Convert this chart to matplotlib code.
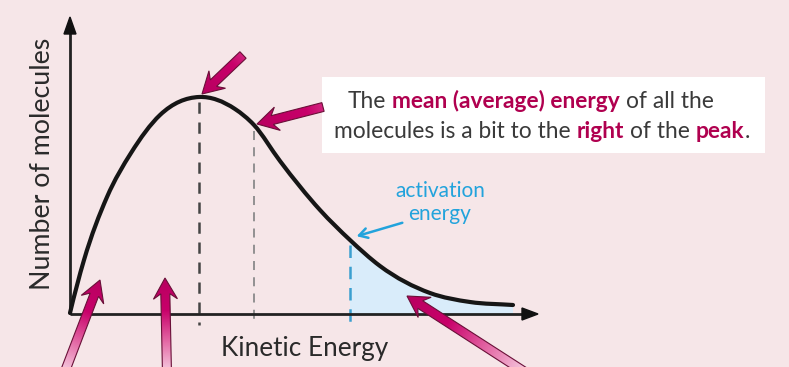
import numpy as np
import matplotlib
matplotlib.use("Agg")
import matplotlib.pyplot as plt
from matplotlib.patches import Polygon, Rectangle, PathPatch
from matplotlib.path import Path
from matplotlib.colors import LinearSegmentedColormap

# ---- data (energy in arbitrary units, molecules in arbitrary units) ----
energy = [0, 14, 37, 61, 90, 129, 165, 184, 210, 250, 280, 310, 360, 400, 443]
molecules = [1, 54, 117, 161, 199, 217, 205, 189, 153, 104, 74, 48, 21, 12, 9]
peak_energy = 129
mean_energy = 184
activation_energy = 280

x_label = "Kinetic Energy"
y_label = "Number of molecules"
act_label = ["activation", "energy"]
box_lines = [
    [("The", False), ("mean (average) energy", True), ("of all the", False)],
    [("molecules is a bit to the", False), ("right", True), ("of the", False),
     ("peak", True), (".", False)],
]

BG = "#f6e6e8"
CRIMSON = "#b0004f"
TEXTGREY = "#3a3a3a"
BLUE = "#22a3dc"

W, H = 789, 367
fig = plt.figure(figsize=(W / 100, H / 100), dpi=100, facecolor=BG)
ax = fig.add_axes([0, 0, 1, 1])
ax.set_facecolor(BG)
# 1 data unit == 1 pixel; origin of the chart axes at pixel (70, 314)
ax.set_xlim(-70, W - 70)
ax.set_ylim(314 - H, 314)
ax.axis("off")

E = np.array(energy, float)
N = np.array(molecules, float)

def curve_at(e):
    return float(np.interp(e, E, N))

# tangents for a smooth cubic Hermite curve through the read points
h = np.diff(E)
d = np.diff(N) / h
m = np.zeros_like(N)
m[1:-1] = (d[:-1] * h[1:] + d[1:] * h[:-1]) / (h[:-1] + h[1:])
m[0] = 2 * d[0] - m[1]
m[-1] = d[-1]

def smooth_codes(start, stop):
    verts = [(E[start], N[start])]
    codes = [Path.MOVETO]
    for i in range(start, stop):
        hh = E[i + 1] - E[i]
        verts += [(E[i] + hh / 3, N[i] + m[i] * hh / 3),
                  (E[i + 1] - hh / 3, N[i + 1] - m[i + 1] * hh / 3),
                  (E[i + 1], N[i + 1])]
        codes += [Path.CURVE4] * 3
    return verts, codes

# shaded area beyond activation energy
i_act = int(np.argmin(np.abs(E - activation_energy)))
v, c = smooth_codes(i_act, len(E) - 1)
v = v + [(E[-1], 0.0), (E[i_act], 0.0), (E[i_act], N[i_act])]
c = c + [Path.LINETO, Path.LINETO, Path.CLOSEPOLY]
ax.add_patch(PathPatch(Path(np.array(v), c), facecolor="#d9ecfa", lw=0, zorder=1))

# axes with arrow heads
ax.plot([0, 455], [0, 0], color="#222222", lw=2, zorder=3, solid_capstyle="butt")
ax.plot([0, 0], [0, 282], color="#222222", lw=2, zorder=3, solid_capstyle="butt")
ax.add_patch(Polygon([[452, -6], [468, 0], [452, 6]], closed=True, color="#111111", zorder=3))
ax.add_patch(Polygon([[-6, 280], [0, 297], [6, 280]], closed=True, color="#111111", zorder=3))

# dashed verticals
ax.plot([peak_energy, peak_energy], [curve_at(peak_energy) - 5, -11],
        color="#444444", lw=1.8, dashes=(4.5, 3.5), zorder=2)
ax.plot([mean_energy, mean_energy], [curve_at(mean_energy) - 6, -11],
        color="#8a8a8a", lw=1.3, dashes=(5, 4), zorder=2)
ax.plot([activation_energy, activation_energy], [curve_at(activation_energy) - 5, -11],
        color="#3a9fd0", lw=1.8, dashes=(5, 3.5), zorder=2)

# the curve (smooth cubic through the read points)
v, c = smooth_codes(0, len(E) - 1)
ax.add_patch(PathPatch(Path(np.array(v), c), facecolor="none", edgecolor="#161616",
                       lw=3, zorder=4, capstyle="round", joinstyle="round"))

# ---- text ----
fig.canvas.draw()
renderer = fig.canvas.get_renderer()

def fit_width(t, target):
    bb = t.get_window_extent(renderer)
    t.set_fontsize(t.get_fontsize() * target / bb.width)

xl = ax.text(235, -42, x_label, ha="center", va="baseline", fontsize=16,
             color="#2a2a2a", family="Lato")
fit_width(xl, 167)
yl = ax.text(-27, 150, y_label, ha="center", va="center", rotation=90,
             fontsize=16, color="#2a2a2a", family="Lato")
fig.canvas.draw()
bb = yl.get_window_extent(renderer)
yl.set_fontsize(yl.get_fontsize() * 253 / bb.height)

# white text box
ax.add_patch(Rectangle((252, 314 - 153), 443, 76, facecolor="white",
                       edgecolor="none", zorder=5))

def width_of(s, fs, bold):
    t = ax.text(0, 0, s, fontsize=fs, fontweight="bold" if bold else "normal",
                family="Lato")
    w = t.get_window_extent(renderer).width
    t.remove()
    return w

def line_width(segments, fs):
    space = width_of("x x", fs, False) - width_of("xx", fs, False)
    tot = 0
    for i, (s, b) in enumerate(segments):
        tot += width_of(s, fs, b) + (space if (i > 0 and s != ".") else 0)
    return tot, space

def draw_line(segments, center, base, fs):
    tot, space = line_width(segments, fs)
    x = center - tot / 2
    for i, (s, bold) in enumerate(segments):
        if i > 0 and s != ".":
            x += space
        ax.text(x, base, s, fontsize=fs, fontweight="bold" if bold else "normal",
                color=CRIMSON if bold else TEXTGREY, family="Lato",
                ha="left", va="baseline", zorder=6)
        x += width_of(s, fs, bold)

fs_box = 15
tot, _ = line_width(box_lines[1], fs_box)
fs_box = fs_box * 417 / tot
draw_line(box_lines[0], 461, 314 - 108, fs_box)
draw_line(box_lines[1], 472, 314 - 138, fs_box)

# activation energy label
a1 = ax.text(370, 314 - 197, act_label[0], ha="center", va="baseline",
             color=BLUE, fontsize=13, family="Lato")
fit_width(a1, 90)
a2 = ax.text(370, 314 - 220, act_label[1], ha="center", va="baseline",
             color=BLUE, fontsize=a1.get_fontsize(), family="Lato")
ax.annotate("", xy=(activation_energy + 4, curve_at(activation_energy) + 3),
            xytext=(335, 92),
            arrowprops=dict(arrowstyle="->,head_length=0.6,head_width=0.35",
                            color=BLUE, lw=1.8), zorder=6)

# ---- magenta pointer arrows ----
cmap = LinearSegmentedColormap.from_list("pk", ["#f7d3e4", "#e46aa6", "#c8006a", "#b80060"])

def pointer(tail, tip, shaft=9, head_w=24, head_l=21, t0=0.0):
    tail = np.array(tail, float)
    tip = np.array(tip, float)
    dd = tip - tail
    L = np.hypot(*dd)
    u = dd / L
    p = np.array([-u[1], u[0]])
    base = tip - u * head_l
    notch = tip - u * head_l * 0.75
    pts = [tail + p * shaft / 2, notch + p * shaft / 2, base + p * head_w / 2, tip,
           base - p * head_w / 2, notch - p * shaft / 2, tail - p * shaft / 2]
    pts = np.array(pts)
    poly = Polygon(pts, closed=True, facecolor="none", edgecolor="#6a1038",
                   lw=0.8, zorder=8)
    ax.add_patch(poly)
    xmin, ymin = pts.min(axis=0) - 2
    xmax, ymax = pts.max(axis=0) + 2
    gx, gy = np.meshgrid(np.linspace(xmin, xmax, 120), np.linspace(ymin, ymax, 120))
    tt = ((gx - tail[0]) * u[0] + (gy - tail[1]) * u[1]) / L
    tt = np.clip(t0 + (1 - t0) * tt, 0, 1)
    im = ax.imshow(tt, extent=[xmin, xmax, ymin, ymax], origin="lower",
                   cmap=cmap, vmin=0, vmax=1, aspect="auto", zorder=7,
                   interpolation="bilinear")
    im.set_clip_path(poly)

pointer((173, 259), (peak_energy + 3, curve_at(peak_energy) + 3), t0=0.55)
pointer((253, 207), (mean_energy + 3, curve_at(mean_energy) + 1), t0=0.55)
pointer((-6, -60), (30, 34))
pointer((97, -60), (95, 36))
pointer((458, -60), (337, 18))

ax.set_xlim(-70, W - 70)
ax.set_ylim(314 - H, 314)
fig.savefig("out.png", dpi=100, facecolor=BG)
